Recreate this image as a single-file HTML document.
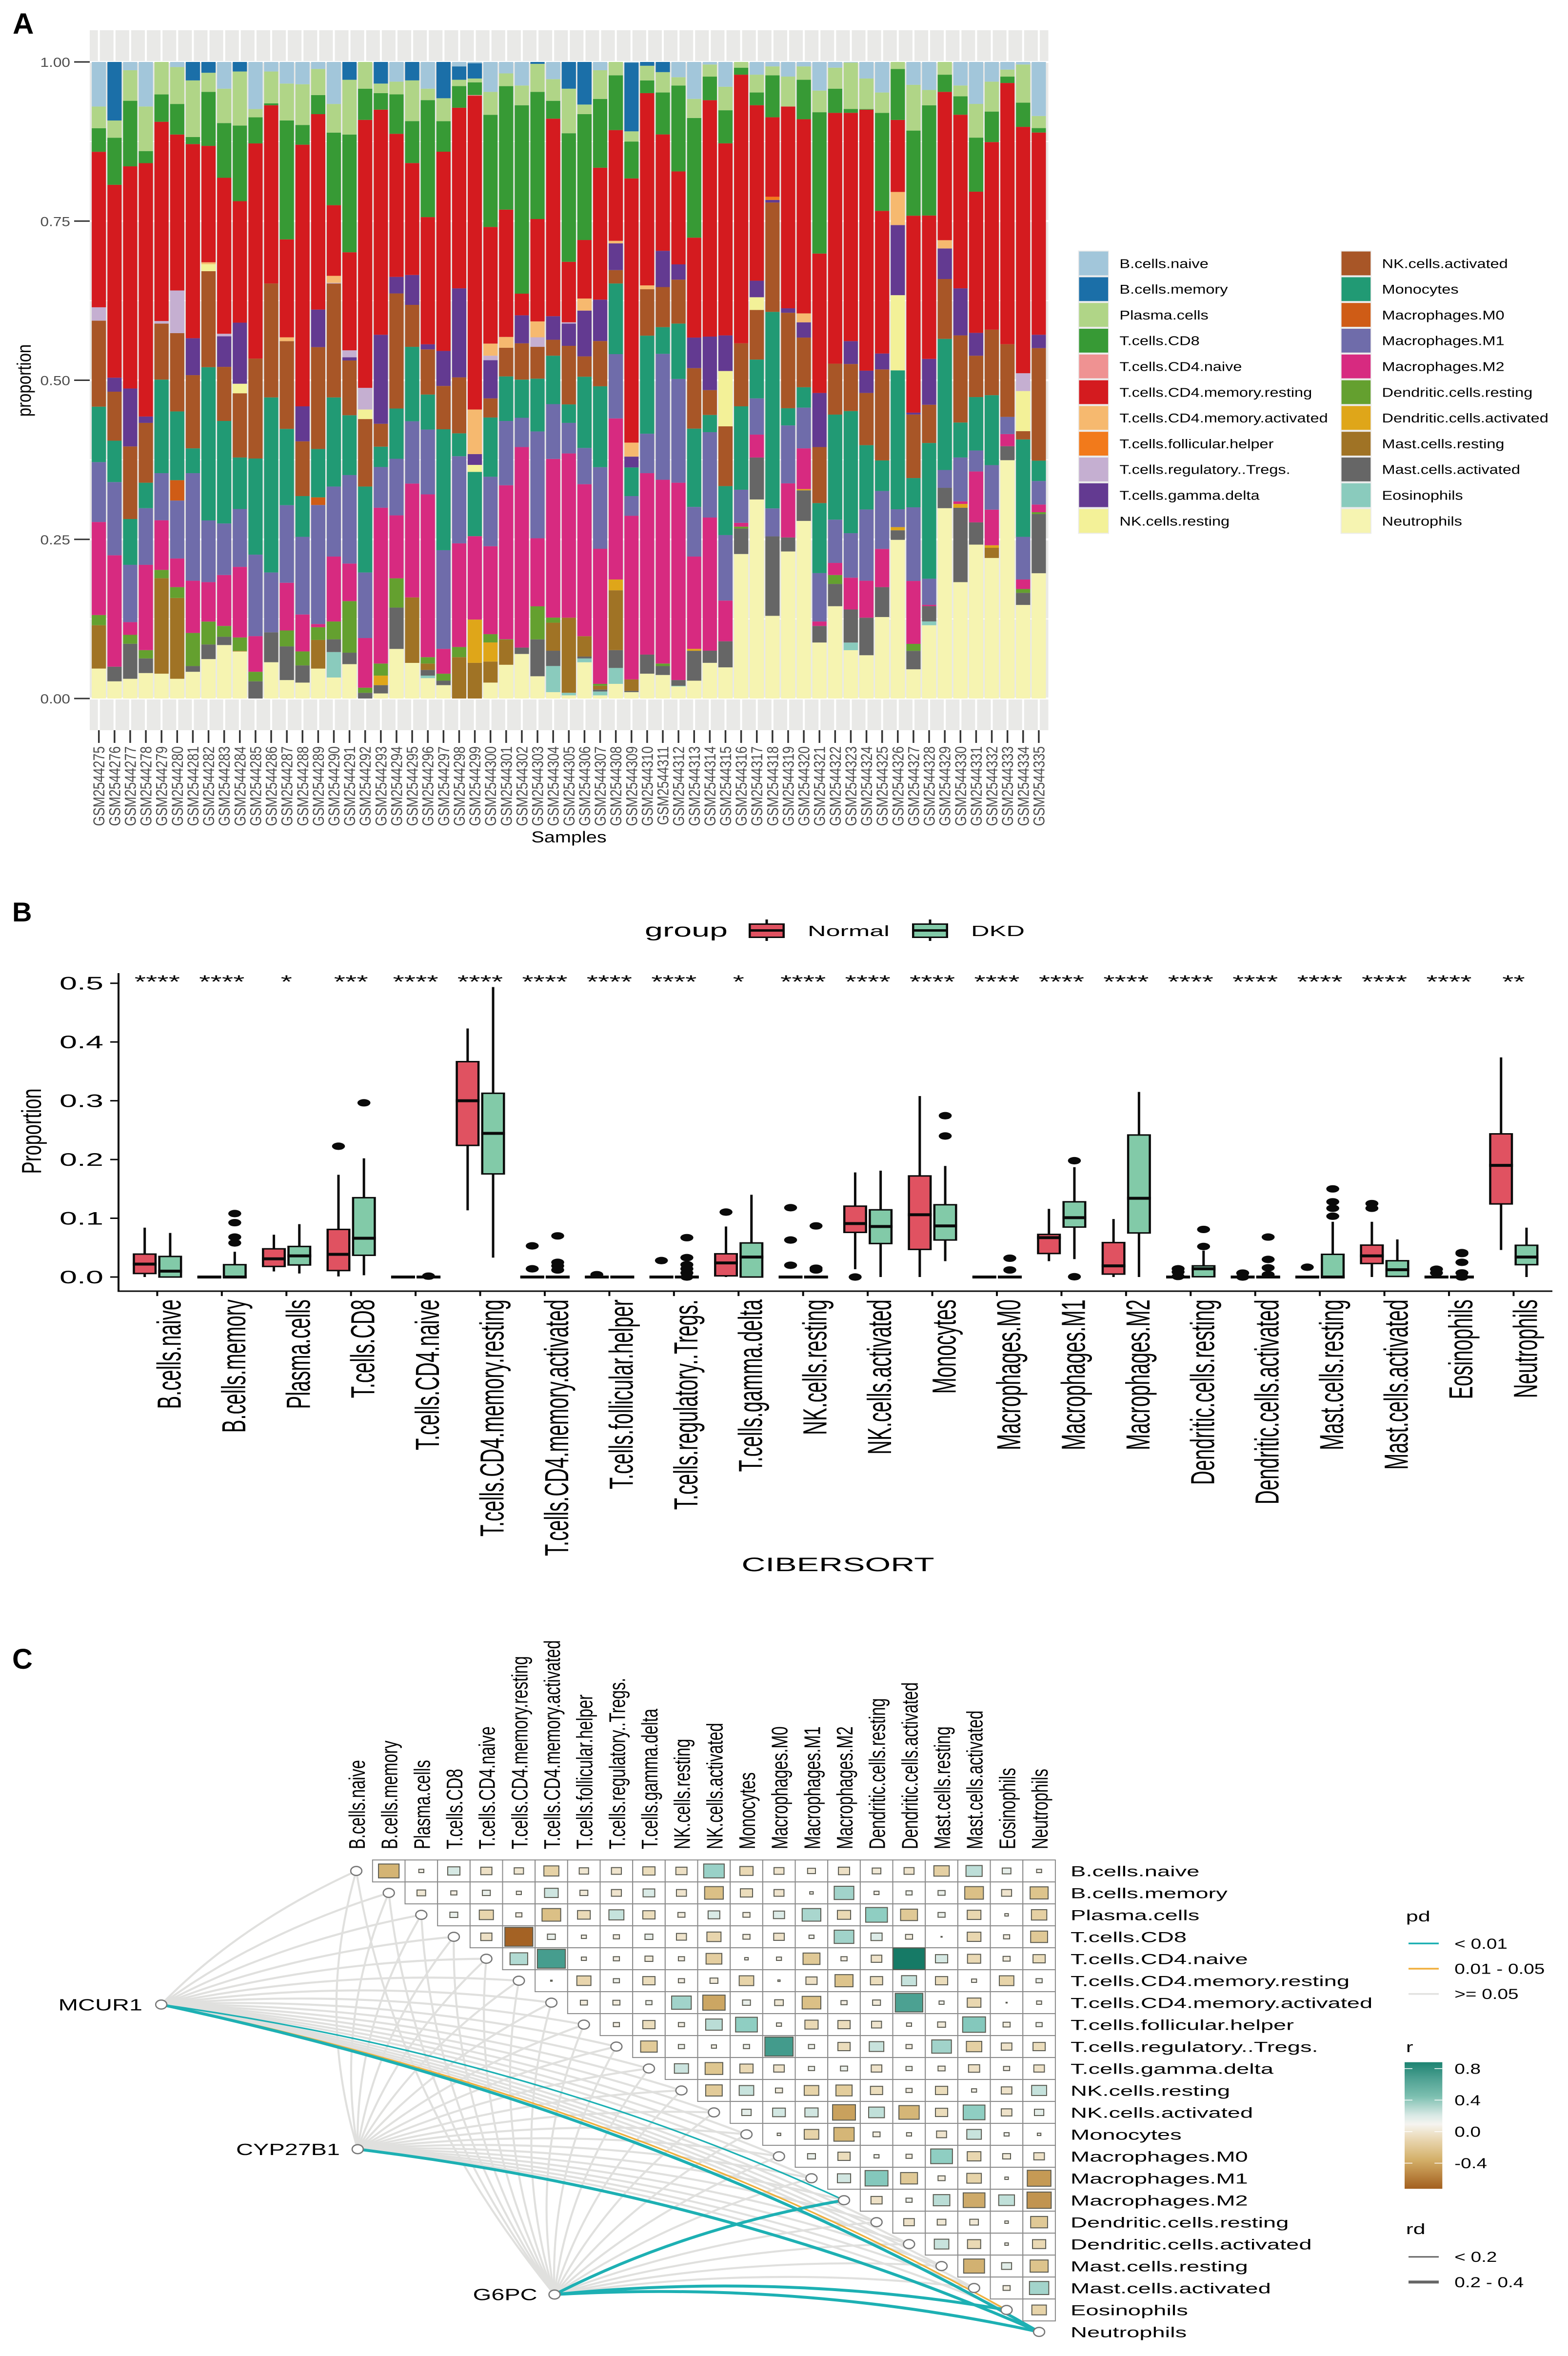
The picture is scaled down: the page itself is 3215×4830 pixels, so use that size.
<!DOCTYPE html>
<html lang="en">
<head>
<meta charset="utf-8">
<title>Immune cell infiltration figure</title>
<style>
html,body{margin:0;padding:0;background:#fff}
svg{display:block;font-family:"Liberation Sans",sans-serif}
</style>
</head>
<body>
<svg id="fig" width="3215" height="4830" viewBox="0 0 3215 4830">
  <defs>
    <linearGradient id="rGrad" x1="0" y1="0" x2="0" y2="1">
      <stop offset="0" stop-color="#1c8371"/>
      <stop offset="0.12" stop-color="#4b9f90"/>
      <stop offset="0.27" stop-color="#7cbfb0"/>
      <stop offset="0.42" stop-color="#d9e9e5"/>
      <stop offset="0.49" stop-color="#f5f4f0"/>
      <stop offset="0.6" stop-color="#ead9b6"/>
      <stop offset="0.77" stop-color="#d4b069"/>
      <stop offset="1" stop-color="#a35f1e"/>
    </linearGradient>
  </defs>
  <g id="panelA"></g>
  <g id="panelB"></g>
  <g id="panelC"></g>
</svg>
<script>
/* ---------- shared category data ---------- */
const cellTypes = ["B.cells.naive","B.cells.memory","Plasma.cells","T.cells.CD8","T.cells.CD4.naive","T.cells.CD4.memory.resting","T.cells.CD4.memory.activated","T.cells.follicular.helper","T.cells.regulatory..Tregs.","T.cells.gamma.delta","NK.cells.resting","NK.cells.activated","Monocytes","Macrophages.M0","Macrophages.M1","Macrophages.M2","Dendritic.cells.resting","Dendritic.cells.activated","Mast.cells.resting","Mast.cells.activated","Eosinophils","Neutrophils"];
const cellColors = ["#a2c6da","#1b6fa8","#b0d587","#379a35","#ef9292","#d41b1f","#f6b96f","#f27a1b","#c5afd1","#633a91","#f3f198","#a85627","#219a74","#cf5c16","#6f6caa","#d72a80","#64a02f","#dfa619","#a07325","#666666","#8acbbd","#f6f4b1"];

/* ---------- panel A data ---------- */
const samples = ["GSM2544275","GSM2544276","GSM2544277","GSM2544278","GSM2544279","GSM2544280","GSM2544281","GSM2544282","GSM2544283","GSM2544284","GSM2544285","GSM2544286","GSM2544287","GSM2544288","GSM2544289","GSM2544290","GSM2544291","GSM2544292","GSM2544293","GSM2544294","GSM2544295","GSM2544296","GSM2544297","GSM2544298","GSM2544299","GSM2544300","GSM2544301","GSM2544302","GSM2544303","GSM2544304","GSM2544305","GSM2544306","GSM2544307","GSM2544308","GSM2544309","GSM2544310","GSM2544311","GSM2544312","GSM2544313","GSM2544314","GSM2544315","GSM2544316","GSM2544317","GSM2544318","GSM2544319","GSM2544320","GSM2544321","GSM2544322","GSM2544323","GSM2544324","GSM2544325","GSM2544326","GSM2544327","GSM2544328","GSM2544329","GSM2544330","GSM2544331","GSM2544332","GSM2544333","GSM2544334","GSM2544335"];
const proportionTicks = ["0.00","0.25","0.50","0.75","1.00"];
/* one row per sample, one column per entry of cellTypes, in thousandths */
const sampleComposition = [
[70,0,34,37,0,244,0,0,21,0,0,135,87,0,94,146,16,0,68,0,0,47],
[0,92,27,74,0,303,0,0,0,22,0,77,65,0,115,175,0,0,0,23,0,27],
[13,0,48,103,0,349,0,0,0,91,0,114,72,0,90,20,14,0,0,55,0,31],
[70,0,70,19,0,398,0,0,0,10,0,94,40,0,89,134,13,0,0,23,0,40],
[0,0,51,43,0,313,0,0,4,0,0,88,147,0,74,78,13,0,150,0,0,39],
[8,0,58,48,0,245,0,0,67,0,0,123,108,32,91,45,17,0,127,0,0,31],
[0,29,89,11,0,305,0,0,0,58,0,115,39,0,169,82,52,0,0,9,0,42],
[0,17,30,85,0,183,3,0,0,0,11,151,241,0,97,62,36,0,0,23,0,62],
[42,0,54,86,0,245,0,0,4,48,0,85,161,0,81,80,17,0,0,13,0,84],
[0,15,85,119,0,191,0,0,0,96,15,101,81,0,91,111,21,0,1,0,0,74],
[74,0,13,41,0,338,0,0,0,0,0,157,151,0,128,56,15,0,0,27,0,0],
[15,0,50,3,0,280,0,0,0,0,0,179,275,0,94,0,0,0,0,47,0,57],
[34,0,58,187,0,154,6,0,0,0,0,138,120,0,122,75,25,0,0,53,0,29],
[35,0,64,31,0,411,0,0,0,55,0,86,64,0,122,58,22,0,0,27,0,25],
[11,0,41,30,0,307,0,0,0,59,0,160,76,12,187,5,20,0,45,0,0,47],
[66,0,45,114,0,111,11,0,1,0,0,179,140,0,110,102,28,0,0,20,40,33],
[0,28,86,185,0,154,0,0,11,5,0,86,94,0,139,59,81,0,0,18,0,54],
[0,0,42,49,0,421,0,0,34,0,15,106,135,0,103,78,8,0,0,9,0,0],
[0,34,15,26,0,354,0,0,0,140,0,36,32,0,64,245,19,15,0,13,0,8],
[31,0,20,62,0,225,0,0,0,26,0,181,79,0,89,99,46,0,0,65,0,78],
[0,29,64,66,0,176,0,0,0,47,0,66,117,0,98,179,0,0,103,0,0,56],
[42,0,18,184,0,200,0,0,0,8,0,71,55,0,102,256,10,0,10,9,4,32],
[0,57,36,48,0,313,0,0,0,55,0,68,190,0,155,39,11,0,0,7,0,21],
[7,21,10,34,0,284,0,0,0,140,0,88,36,0,137,163,16,0,65,0,0,0],
[2,24,6,20,1,493,70,0,0,17,11,0,101,0,0,131,0,68,56,0,0,0],
[47,0,36,176,0,183,19,0,7,60,0,30,93,0,109,138,13,30,33,0,0,25],
[18,0,20,194,0,200,17,0,0,0,0,45,70,0,101,242,1,0,39,0,0,53],
[37,0,31,296,0,34,0,0,0,44,0,57,60,0,46,315,0,0,0,10,0,70],
[0,3,44,200,0,161,25,0,15,0,0,50,83,0,168,107,52,0,0,58,0,35],
[27,0,34,28,0,310,0,0,0,37,0,25,76,0,86,249,8,0,44,24,41,10],
[0,42,70,202,0,95,0,0,2,35,0,92,29,0,48,258,0,0,118,0,4,5],
[0,67,15,198,0,92,19,0,0,72,0,32,112,0,57,239,0,0,32,3,6,57],
[13,0,45,108,0,207,0,0,0,65,0,71,127,0,128,212,3,0,6,3,6,5],
[0,0,21,86,0,174,4,0,0,42,0,21,111,0,101,253,0,17,94,28,25,23],
[1,108,16,58,0,415,22,0,0,17,0,0,45,0,31,257,0,0,18,2,0,10],
[0,6,23,20,0,302,6,0,0,0,0,73,154,0,62,285,0,0,0,30,0,39],
[0,16,32,66,0,183,0,0,0,57,0,63,42,0,198,289,4,0,0,14,0,37],
[24,0,13,135,0,146,0,0,0,24,0,69,87,0,163,310,0,0,0,9,1,19],
[58,0,30,188,0,157,0,0,0,48,0,95,123,0,78,145,0,3,0,47,0,28],
[4,0,19,37,0,371,0,0,0,84,0,39,27,0,134,209,0,0,0,19,0,56],
[39,0,37,52,0,302,0,0,0,56,87,94,77,0,103,64,0,0,0,41,0,49],
[0,0,9,11,0,422,0,0,0,0,0,99,131,0,52,6,3,0,0,40,0,227],
[20,0,28,20,0,276,0,0,0,26,20,78,61,0,57,36,0,0,0,66,0,313],
[7,0,14,66,0,125,0,5,0,4,0,172,309,0,44,0,0,0,0,125,0,130],
[23,0,47,0,0,317,0,0,0,7,0,150,27,0,91,85,0,0,0,22,0,231],
[7,0,21,62,0,305,14,0,0,24,0,78,32,0,64,64,0,2,0,48,0,279],
[45,0,34,222,0,219,0,0,0,85,0,88,110,0,76,7,0,0,0,26,0,88],
[9,0,33,38,0,394,0,0,0,0,0,80,165,0,68,19,14,0,0,35,0,145],
[1,0,73,6,0,359,0,0,0,36,0,74,192,0,70,50,0,0,0,52,12,76],
[26,0,48,1,0,410,0,0,0,35,0,82,101,0,112,58,0,0,0,59,0,68],
[48,0,32,154,0,224,0,0,0,25,0,143,48,0,91,60,0,0,0,47,0,128],
[0,0,11,80,0,113,52,0,0,110,118,0,218,0,28,0,0,5,0,15,0,249],
[36,0,72,134,0,310,0,0,0,3,0,100,46,0,116,99,11,0,0,29,0,46],
[44,0,24,173,0,225,0,0,0,72,0,60,213,0,41,2,0,0,0,24,6,115],
[0,0,20,27,0,233,13,0,0,48,0,94,206,0,28,0,0,0,0,32,0,299],
[37,0,17,29,0,273,0,0,0,74,0,137,55,0,69,4,0,6,0,117,0,183],
[66,0,53,85,0,222,0,0,0,36,0,65,84,0,33,80,0,0,0,35,0,242],
[31,0,47,48,0,295,0,0,0,0,0,103,110,0,70,56,0,4,16,0,0,221],
[12,0,11,10,0,410,0,0,0,0,0,114,0,0,27,19,0,0,0,22,0,374],
[4,0,60,38,0,387,0,0,28,0,63,13,153,0,67,15,6,0,0,19,0,147],
[85,0,19,7,0,318,0,0,0,21,0,177,32,0,37,12,3,0,0,93,0,197]
];

/* ---------- panel B data ---------- */
const significance = ["****","****","*","***","****","****","****","****","****","*","****","****","****","****","****","****","****","****","****","****","****","**"];
const proportionAxisTicks = ["0.0","0.1","0.2","0.3","0.4","0.5"];
const normalHigh = [.084,0,.072,.174,0,.423,0,0,0,.086,0,.178,.308,0,.116,.0987,.001,0,0,.094,0,.3738];
const normalQ3 = [.039,0,.048,.081,0,.3665,0,0,0,.0395,0,.1206,.172,0,.0725,.0586,.001,0,0,.0543,0,.2436];
const normalMedian = [.022,0,.031,.0386,0,.3,0,0,0,.024,0,.091,.106,0,.067,.019,0,0,0,.036,0,.19];
const normalQ1 = [.006,0,.018,.011,0,.224,0,0,0,.002,0,.076,.047,0,.04,.005,0,0,0,.023,0,.1244];
const normalLow = [0,0,.0095,.001,0,.1135,0,0,0,0,0,.0133,0,0,.027,0,0,0,0,0,0,.046];
const normalOutliers = [[],[],[],[.2226],[],[],[.053,.014],[.004],[.028],[.1105],[.118,.063,.02],[0],[],[],[],[],[.014,.0086,.001],[.0067,0],[.0167],[.125,.117],[.0133,.007],[]];
const dkdHigh = [.075,.043,.09,.202,0,.4935,.001,0,.001,.14,0,.181,.189,0,.187,.315,.045,0,.094,.064,0,.084];
const dkdQ3 = [.035,.021,.052,.135,0,.3127,0,0,0,.058,0,.1144,.123,0,.128,.2417,.019,0,.0386,.0277,0,.054];
const dkdMedian = [.01,0,.036,.066,0,.2445,0,0,0,.034,0,.086,.087,0,.101,.134,.014,0,0,.0124,0,.034];
const dkdQ1 = [0,0,.0205,.037,0,.1755,0,0,0,0,0,.057,.063,0,.085,.075,.0005,0,0,.001,0,.021];
const dkdLow = [0,0,.006,.003,0,.033,0,0,0,0,0,0,.027,0,.0305,0,0,0,0,0,0,0];
const dkdOutliers = [[],[.108,.0925,.068,.058],[],[.2965],[.0015],[],[.07,.025,.019,.012],[],[.067,.033,.021,.014,.007,0],[],[.087,.015,.012],[],[.2746,.24],[.032,.012],[.198,.0005],[],[.081,.052],[.068,.03,.0157,.004],[.15,.128,.117,.1035],[],[.0415,.04,.025,.007,0],[]];

/* ---------- panel C data ---------- */
/* upper triangle of the correlation matrix: row i holds columns i+1 .. 21 */
const correlationRows = [
[-.34,-.02,.12,-.1,-.07,-.18,-.07,-.08,-.12,-.1,.34,-.14,-.08,-.05,-.1,-.06,-.08,-.19,.21,.06,-.02],
[-.06,-.03,.05,-.02,.15,-.05,-.08,.11,-.08,-.28,-.12,-.08,-.01,.31,-.02,.03,.04,-.28,-.08,-.26],
[.05,-.16,-.03,-.28,-.13,.18,-.12,-.04,.11,-.04,.1,.28,-.14,.38,-.23,.04,-.15,-.01,-.19],
[-.1,-.63,.05,-.02,-.03,.05,-.08,-.16,-.04,-.09,.02,.31,.1,-.04,-.001,-.15,-.03,-.23],
[.25,.63,-.02,-.03,-.05,-.03,-.2,-.01,-.02,-.23,-.03,-.09,.82,.12,-.14,-.04,-.12],
[-.002,-.16,.03,-.12,-.03,-.05,-.17,-.004,-.1,-.26,-.12,.18,-.12,-.02,-.17,.03],
[-.04,-.04,.03,.31,-.4,.05,-.06,-.28,-.03,-.05,.61,.02,-.15,-.001,-.02],
[-.03,-.12,-.03,.22,.38,-.02,-.14,-.12,-.08,-.02,-.05,.42,-.04,.03],
[-.22,.03,-.02,.03,.64,.03,-.12,.17,-.03,.31,-.19,-.09,-.12],
[.16,-.25,-.14,-.09,.03,.04,-.09,.03,-.04,-.1,-.03,-.09],
[-.22,.17,-.04,-.17,-.21,-.12,-.03,-.12,-.02,-.09,.18],
[.07,.13,.14,-.42,.2,-.33,-.12,.38,-.09,.07],
[-.01,-.17,-.33,-.04,-.02,-.08,.17,.02,-.01],
[.05,-.12,.02,-.03,.38,-.15,-.05,-.09],
[.14,.42,-.23,-.04,-.17,-.01,-.45],
[-.1,.03,.22,-.38,.2,-.47],
[-.09,-.06,-.06,-.01,-.23],
[.17,-.14,-.01,-.14],
[-.35,.08,-.26],
[-.04,.3],
[-.17]
];
/* link class per target cell type: 0 p>=0.05, 1 p<0.01 thin, 2 0.01-0.05, 3 p<0.01 thick */
const mcur1Links = [0,0,0,0,0,0,0,0,0,0,0,0,0,0,0,1,0,0,0,0,2,3];
const cyp27b1Links = [0,0,0,0,0,0,0,0,0,0,0,0,0,0,0,0,0,0,0,0,0,3];
const g6pcLinks = [0,0,0,0,0,0,0,0,0,0,0,0,0,0,0,3,0,0,0,0,3,3];
const colorbarTicks = [0.8,0.4,0.0,-0.4];
const pdLegendLabels = ["< 0.01","0.01 - 0.05",">= 0.05"];
const rdLegendLabels = ["< 0.2","0.2 - 0.4"];

/* ---------- helpers ---------- */
const SVGNS = document.getElementById('fig').namespaceURI;
function mk(parent, tag, attrs){
  const e = document.createElementNS(SVGNS, tag);
  for(const k in attrs) e.setAttribute(k, attrs[k]);
  parent.appendChild(e);
  return e;
}
function mkText(parent, str, x, y, o){
  const sx = o.sx || 1;
  const rot = o.rot ? ' rotate(' + o.rot + ')' : '';
  const e = mk(parent, 'text', {
    transform: 'translate(' + x + ' ' + y + ') scale(' + sx + ' 1)' + rot,
    'font-size': o.size,
    fill: o.fill || '#000',
    'text-anchor': o.anchor || 'start',
    'font-weight': o.weight || 'normal'
  });
  e.textContent = str;
  return e;
}
const slug = s => s.toLowerCase().replace(/[^a-z0-9]+/g, '-').replace(/^-|-$/g, '');

/* ---------- panel A ---------- */
(function(){
  const g = document.getElementById('panelA');
  const yA = v => 1432 - 1305 * v;
  const xA = i => 202.7 + 32.12 * i;

  const lab = mkText(g, 'A', 26, 69, {size: 60, weight: 'bold'});
  
  

  const bg = mk(g, 'rect', {x: 184, y: 62, width: 1965.5, height: 1435, fill: '#e9e9e7'});
  
  

  samples.forEach((s, i) => {
    const gl = mk(g, 'line', {x1: xA(i), x2: xA(i), y1: 62, y2: 1497, stroke: '#fff', 'stroke-width': 4});
    
    
  });
  [0, .125, .25, .375, .5, .625, .75, .875, 1].forEach((v, i) => {
    const gl = mk(g, 'line', {x1: 184, x2: 2149.5, y1: yA(v), y2: yA(v), stroke: '#fff', 'stroke-width': i % 2 ? 2 : 4});
    
    
  });

  sampleComposition.forEach((row, i) => {
    const total = row.reduce((a, b) => a + b, 0);
    let cum = 0;
    for(let k = row.length - 1; k >= 0; k--){
      if(row[k] <= 0) continue;
      const lo = cum / total;
      cum += row[k];
      const hi = cum / total;
      const seg = mk(g, 'rect', {x: xA(i) - 14.6, y: yA(hi), width: 29.2, height: yA(lo) - yA(hi), fill: cellColors[k]});
      
      
    }
    const tick = mk(g, 'line', {x1: xA(i), x2: xA(i), y1: 1497, y2: 1523, stroke: '#333', 'stroke-width': 3.5});
    
    
    const t = mkText(g, samples[i], xA(i) + 11.5, 1530, {size: 26.5, sx: 1.22, rot: -90, anchor: 'end', fill: '#4d4d4d'});
    
    
  });

  proportionTicks.forEach(lbl => {
    const v = parseFloat(lbl);
    const tick = mk(g, 'line', {x1: 152, x2: 184, y1: yA(v), y2: yA(v), stroke: '#333', 'stroke-width': 3});
    
    
    const t = mkText(g, lbl, 144, yA(v) + 10, {size: 27, sx: 1.17, anchor: 'end', fill: '#4d4d4d'});
    
    
  });

  const yt = mkText(g, 'proportion', 63, 780, {size: 33, sx: 1.22, rot: -90, anchor: 'middle'});
  
  
  const xt = mkText(g, 'Samples', 1166.5, 1727, {size: 32, sx: 1.24, anchor: 'middle'});
  
  

  cellTypes.forEach((name, k) => {
    const col = k < 11 ? 0 : 1;
    const row = k % 11;
    const cy = 540 + 52.8 * row;
    const sw = col ? 2750.6 : 2212.5;
    const tx = col ? 2833.5 : 2295.4;
    const keyBg = mk(g, 'rect', {x: sw - 2, y: cy - 26.4, width: 63.4, height: 52.8, fill: '#ebebeb'});
    
    
    const key = mk(g, 'rect', {x: sw, y: cy - 24.4, width: 59.6, height: 48.8, fill: cellColors[k]});
    
    
    const t = mkText(g, name, tx, cy + 9.3, {size: 26, sx: 1.25});
    
    
  });
})();

/* ---------- panel B ---------- */
(function(){
  const g = document.getElementById('panelB');
  const yB = v => 2618 - 1204.6 * v;
  const xB = i => 322.4 + 132.43 * i;
  const RED = '#e05261', GREEN = '#82caa8', INK = '#0a0a0a';

  const lab = mkText(g, 'B', 25, 1889, {size: 56, weight: 'bold'});
  
  

  const ax = mk(g, 'line', {x1: 243, x2: 243, y1: 1995, y2: 2648, stroke: INK, 'stroke-width': 4});
  
  
  const ax2 = mk(g, 'line', {x1: 241, x2: 3183, y1: 2647, y2: 2647, stroke: INK, 'stroke-width': 3});
  
  

  proportionAxisTicks.forEach(lbl => {
    const v = parseFloat(lbl);
    const tick = mk(g, 'line', {x1: 226, x2: 243, y1: yB(v), y2: yB(v), stroke: INK, 'stroke-width': 3});
    
    
    const t = mkText(g, lbl, 212, yB(v) + 13, {size: 37, sx: 1.75, anchor: 'end'});
    
    
  });

  function box(cx, hi, q3, med, q1, lo, outs, fill, name){
    const whisk = mk(g, 'rect', {x: cx - 2.5, y: yB(hi), width: 5, height: Math.max(0, yB(lo) - yB(hi)), fill: INK});
    
    
    const outer = mk(g, 'rect', {x: cx - 24.5, y: yB(q3) - 1.5, width: 49, height: Math.max(3, yB(q1) - yB(q3) + 3), fill: INK});
    
    
    const ih = yB(q1) - yB(q3) - 3;
    if(ih > 0){
      const inner = mk(g, 'rect', {x: cx - 20, y: yB(q3) + 1.5, width: 40, height: ih, fill: fill});
      
      
    }
    const m = mk(g, 'rect', {x: cx - 24.5, y: yB(med) - 3, width: 49, height: 6, fill: INK});
    
    
    outs.forEach(v => {
      const o = mk(g, 'ellipse', {cx: cx, cy: yB(v), rx: 13.3, ry: 7.6, fill: INK});
      
      
    });
  }

  cellTypes.forEach((name, i) => {
    const s = slug(name);
    box(xB(i) - 25.7, normalHigh[i], normalQ3[i], normalMedian[i], normalQ1[i], normalLow[i], normalOutliers[i], RED, 'normal-' + s);
    box(xB(i) + 26.5, dkdHigh[i], dkdQ3[i], dkdMedian[i], dkdQ1[i], dkdLow[i], dkdOutliers[i], GREEN, 'dkd-' + s);
    const tick = mk(g, 'line', {x1: xB(i), x2: xB(i), y1: 2647, y2: 2657, stroke: INK, 'stroke-width': 4});
    
    
    const t = mkText(g, name, xB(i) + 48, 2664, {size: 40, sx: 1.72, rot: -90, anchor: 'end'});
    
    
    const st = mkText(g, significance[i], xB(i), 2025, {size: 37, sx: 1.62, anchor: 'middle'});
    
    
  });

  const yt = mkText(g, 'Proportion', 84, 2319, {size: 38, sx: 1.5, rot: -90, anchor: 'middle'});
  
  
  const xt = mkText(g, 'CIBERSORT', 1718, 3221, {size: 40, sx: 1.7, anchor: 'middle'});
  
  

  const gt = mkText(g, 'group', 1322, 1920, {size: 38, sx: 1.75});
  
  

  [[1572, RED, 'Normal', 1656], [1907, GREEN, 'DKD', 1991]].forEach(([cx, col, label, tx]) => {
    const w = mk(g, 'rect', {x: cx - 2.5, y: 1885, width: 5, height: 44, fill: INK});
    
    
    const o = mk(g, 'rect', {x: cx - 37, y: 1893, width: 74, height: 30, fill: INK});
    
    
    const f = mk(g, 'rect', {x: cx - 32.5, y: 1896, width: 65, height: 24, fill: col});
    
    
    const m = mk(g, 'rect', {x: cx - 37, y: 1905, width: 74, height: 5, fill: INK});
    
    
    const t = mkText(g, label, tx, 1919, {size: 31, sx: 1.68});
    
    
  });
})();

/* ---------- panel C ---------- */
(function(){
  const g = document.getElementById('panelC');
  const xC = j => 730.5 + 66.67 * j;
  const yC = i => 3835.6 + 45 * i;
  const CW = 66.67, CH = 45;
  const stops = [[-.65,[160,92,31]],[-.45,[197,154,85]],[-.3,[217,189,127]],[-.15,[233,215,176]],[0,[245,243,238]],[.1,[220,235,231]],[.3,[163,212,203]],[.4,[138,204,192]],[.63,[70,157,142]],[.82,[22,122,102]]];
  function rColor(r){
    if(r <= stops[0][0]) return 'rgb(' + stops[0][1].join(',') + ')';
    for(let i = 1; i < stops.length; i++){
      if(r <= stops[i][0]){
        const t = (r - stops[i-1][0]) / (stops[i][0] - stops[i-1][0]);
        const c = stops[i-1][1].map((v, k) => Math.round(v + (stops[i][1][k] - v) * t));
        return 'rgb(' + c.join(',') + ')';
      }
    }
    return 'rgb(' + stops[stops.length-1][1].join(',') + ')';
  }

  const lab = mkText(g, 'C', 25, 3421, {size: 58, weight: 'bold'});
  
  

  /* links */
  const genes = [
    {name: 'MCUR1', x: 330.6, y: 4109.5, links: mcur1Links, lx: 292, ly: 4121.6},
    {name: 'CYP27B1', x: 733.4, y: 4406, links: cyp27b1Links, lx: 697, ly: 4418},
    {name: 'G6PC', x: 1137, y: 4704, links: g6pcLinks, lx: 1101.7, ly: 4715.7}
  ];
  const linkColor = ['#e0e0de', '#1db0b3', '#edb03f', '#1db0b3'];
  const linkWidth = [4.2, 3.2, 3.4, 6];
  function drawLinks(wantGrey){
    genes.forEach(gene => {
      gene.links.forEach((cls, k) => {
        if((cls === 0) !== wantGrey) return;
        const x2 = xC(k), y2 = yC(k);
        const s = 1.48, curv = 0.1;
        const ux = (x2 - gene.x) / s, uy = y2 - gene.y;
        const cx = (gene.x + x2) / 2 + curv * uy * s;
        const cy = (gene.y + y2) / 2 - curv * ux;
        const p = mk(g, 'path', {d: 'M' + gene.x + ' ' + gene.y + 'Q' + cx + ' ' + cy + ' ' + x2 + ' ' + y2, fill: 'none', stroke: linkColor[cls], 'stroke-width': linkWidth[cls]});
        
        
      });
    });
  }
  drawLinks(true);
  drawLinks(false);

  /* matrix */
  correlationRows.forEach((row, i) => {
    row.forEach((r, n) => {
      const j = i + 1 + n;
      const cell = mk(g, 'rect', {x: xC(j) - CW / 2, y: yC(i) - CH / 2, width: CW, height: CH, fill: '#fff', stroke: '#8a8a8a', 'stroke-width': 2});
      
      
    });
  });
  correlationRows.forEach((row, i) => {
    row.forEach((r, n) => {
      const j = i + 1 + n;
      const f = Math.min(1, Math.sqrt(Math.abs(r) / 0.85));
      const w = CW * f, h = CH * f;
      const sq = mk(g, 'rect', {x: xC(j) - w / 2, y: yC(i) - h / 2, width: w, height: h, fill: rColor(r), stroke: '#5a5a50', 'stroke-width': 2});
      
      
    });
  });

  /* labels and diagonal nodes */
  cellTypes.forEach((name, k) => {
    const s = slug(name);
    const top = mkText(g, name, xC(k) + 17.5, 3791, {size: 32.6, sx: 1.41, rot: -90});
    
    
    const right = mkText(g, name, 2195, yC(k) + 10.7, {size: 30, sx: 1.57});
    
    
    const node = mk(g, 'ellipse', {cx: xC(k), cy: yC(k), rx: 11.4, ry: 9.2, fill: '#fff', stroke: '#777', 'stroke-width': 2.6});
    
    
  });

  genes.forEach(gene => {
    const node = mk(g, 'ellipse', {cx: gene.x, cy: gene.y, rx: 11.4, ry: 9.2, fill: '#fff', stroke: '#777', 'stroke-width': 2.6});
    
    
    const t = mkText(g, gene.name, gene.lx, gene.ly, {size: 33, sx: 1.47, anchor: 'end'});
    
    
  });

  /* legends */
  const pdT = mkText(g, 'pd', 2882.7, 3939, {size: 31, sx: 1.45});
  
  
  const pdColors = ['#1db0b3', '#f0ae3c', '#e2e2e0'];
  pdLegendLabels.forEach((lbl, i) => {
    const y = 3984.3 + 51.7 * i;
    const l = mk(g, 'line', {x1: 2888, x2: 2950, y1: y, y2: y, stroke: pdColors[i], 'stroke-width': 3.5});
    
    
    const t = mkText(g, lbl, 2982.3, y + 10.5, {size: 30, sx: 1.29});
    
    
  });

  const rT = mkText(g, 'r', 2882.7, 4207, {size: 31, sx: 1.45});
  
  
  const bar = mk(g, 'rect', {x: 2880, y: 4227.7, width: 77.3, height: 259.5, fill: 'url(#rGrad)'});
  
  
  colorbarTicks.forEach(v => {
    const y = 4370 - 161.5 * v;
    const a = mk(g, 'line', {x1: 2880, x2: 2896, y1: y, y2: y, stroke: '#fff', 'stroke-width': 1.5});
    
    
    const b = mk(g, 'line', {x1: 2941.3, x2: 2957.3, y1: y, y2: y, stroke: '#fff', 'stroke-width': 1.5});
    
    
    const t = mkText(g, (v < 0 ? '-' : '') + Math.abs(v).toFixed(1), 2982.3, y + 10.5, {size: 30, sx: 1.29});
    
    
  });

  const rdT = mkText(g, 'rd', 2882.7, 4580, {size: 31, sx: 1.45});
  
  
  rdLegendLabels.forEach((lbl, i) => {
    const y = 4626.7 + 51.7 * i;
    const l = mk(g, 'line', {x1: 2888, x2: 2950, y1: y, y2: y, stroke: '#666', 'stroke-width': i ? 6 : 3});
    
    
    const t = mkText(g, lbl, 2982.3, y + 10.5, {size: 30, sx: 1.29});
    
    
  });
})();
</script>
</body>
</html>
